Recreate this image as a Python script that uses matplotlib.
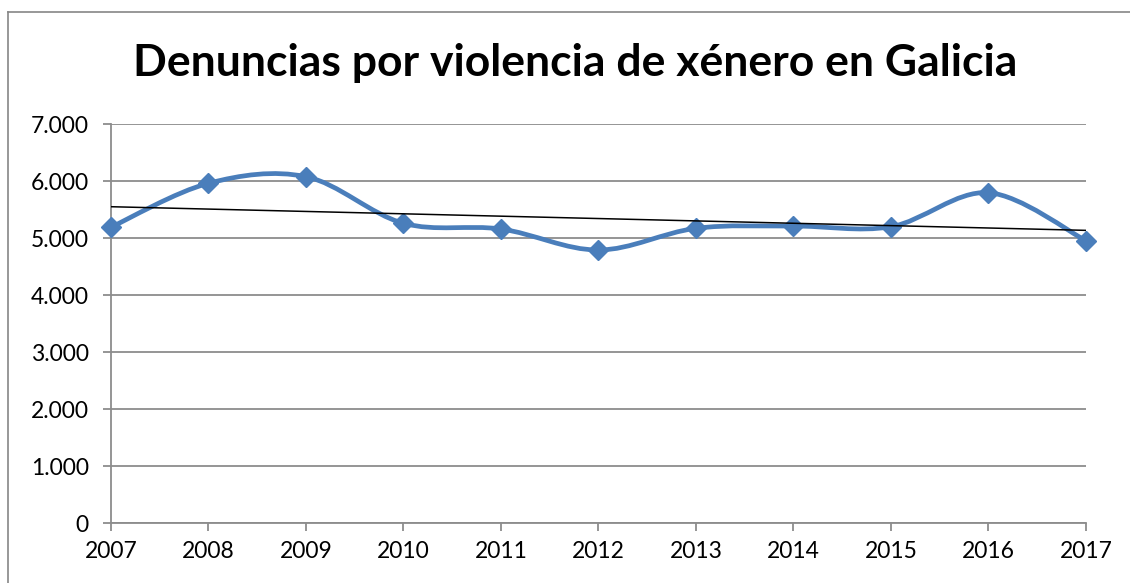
import matplotlib
matplotlib.use("Agg")
import matplotlib.pyplot as plt
import numpy as np
from matplotlib.path import Path
from matplotlib.patches import PathPatch
from matplotlib.lines import Line2D
from matplotlib.ticker import FuncFormatter

# Data
years = [2007, 2008, 2009, 2010, 2011, 2012, 2013, 2014, 2015, 2016, 2017]
denuncias = [5190, 5960, 6076, 5258, 5158, 4789, 5170, 5210, 5198, 5795, 4953]
title = "Denuncias por violencia de xénero en Galicia"

plt.rcParams["font.family"] = ["Lato", "DejaVu Sans"]

line_color = "#4A7EBB"
grid_color = "#8C8C8C"

fig = plt.figure(figsize=(11.3, 5.83), dpi=100)
ax = fig.add_axes([0.0982, 0.1029, 0.8628, 0.6844])

x = np.array(years, dtype=float)
y = np.array(denuncias, dtype=float)

# Excel-style smoothed line: cubic Bezier through each point
xp = np.concatenate([[x[0]], x, [x[-1]]])
yp = np.concatenate([[y[0]], y, [y[-1]]])
verts = [(x[0], y[0])]
codes = [Path.MOVETO]
for i in range(1, len(xp) - 2):
    c1 = (xp[i] + (xp[i + 1] - xp[i - 1]) / 6, yp[i] + (yp[i + 1] - yp[i - 1]) / 6)
    c2 = (xp[i + 1] - (xp[i + 2] - xp[i]) / 6, yp[i + 1] - (yp[i + 2] - yp[i]) / 6)
    verts += [c1, c2, (xp[i + 1], yp[i + 1])]
    codes += [Path.CURVE4] * 3
ax.add_patch(PathPatch(Path(verts, codes), fill=False, edgecolor=line_color,
                       lw=3.4, capstyle="round", joinstyle="round", zorder=3))
ax.plot(x, y, linestyle="none", marker="D", markersize=10,
        color=line_color, zorder=4, clip_on=False)

# Linear trendline
k, b = np.polyfit(x, y, 1)
ax.plot(x[[0, -1]], k * x[[0, -1]] + b, color="black", lw=1.1, zorder=5)

ax.set_xlim(years[0], years[-1])
ax.set_ylim(0, 7000)
ax.set_xticks(years)
ax.set_yticks(np.arange(0, 7001, 1000))
ax.yaxis.set_major_formatter(FuncFormatter(
    lambda v, p: "0" if v == 0 else f"{int(v):,}".replace(",", ".")))

ax.grid(axis="y", color=grid_color, lw=1.3)
ax.set_axisbelow(True)
for s in ["top", "right"]:
    ax.spines[s].set_visible(False)
for s in ["left", "bottom"]:
    ax.spines[s].set_color(grid_color)
    ax.spines[s].set_linewidth(1.3)
ax.tick_params(axis="both", colors=grid_color, width=1.3, length=6,
               labelcolor="black", labelsize=16.5)
ax.tick_params(axis="x", pad=7)
ax.tick_params(axis="y", pad=10)

fig.text(0.509, 0.892, title, ha="center", va="center",
         fontsize=32, fontweight="bold")

# chart area border (only top and left edges are visible)
fig.add_artist(Line2D([8 / 1130, 8 / 1130], [0, 1 - 12 / 583],
                      transform=fig.transFigure, color="#868686", lw=1.2))
fig.add_artist(Line2D([8 / 1130, 1], [1 - 12 / 583, 1 - 12 / 583],
                      transform=fig.transFigure, color="#868686", lw=1.2))

fig.savefig("out.png", dpi=100)
